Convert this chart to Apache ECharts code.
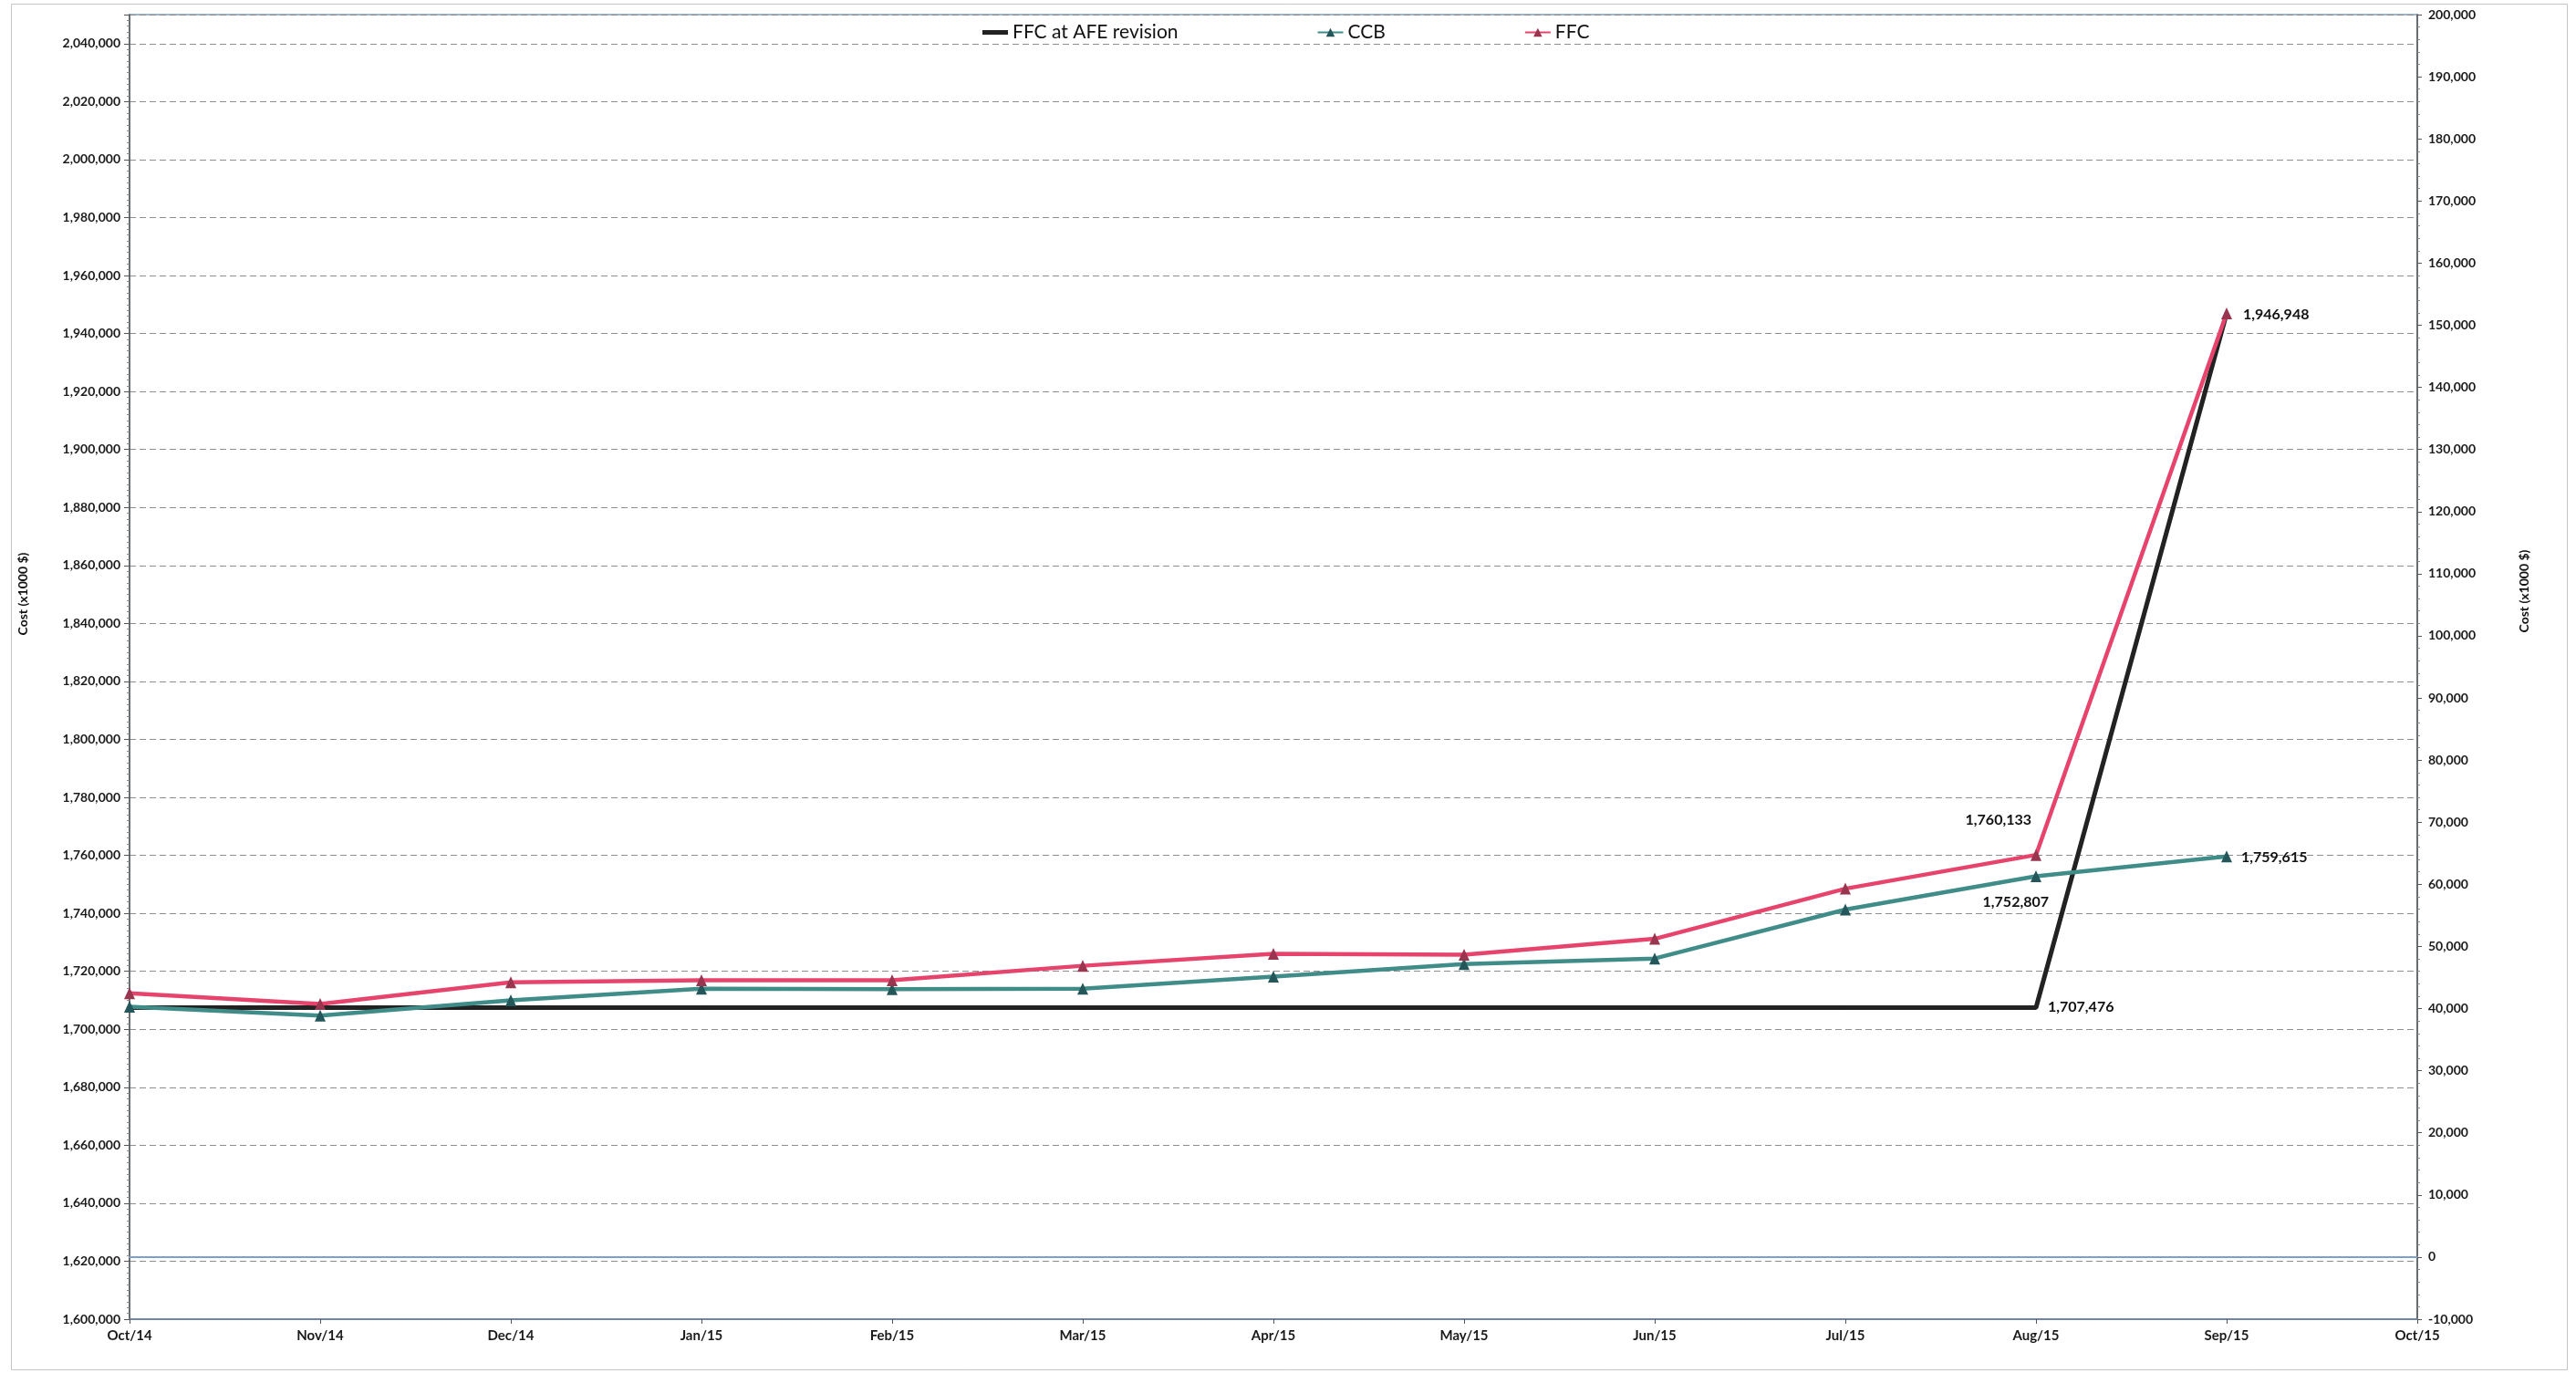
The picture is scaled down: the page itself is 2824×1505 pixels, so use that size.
<!DOCTYPE html>
<html>
<head>
<meta charset="utf-8">
<script src="https://cdn.jsdelivr.net/npm/echarts@6/dist/echarts.min.js"></script>
<style>
  html, body { margin: 0; padding: 0; background: #ffffff; }
  #chart { width: 2824px; height: 1505px; }
</style>
</head>
<body>
<div id="chart"></div>
<script>
// Monthly cost tracking (x1000 $)
const months = ['Oct/14', 'Nov/14', 'Dec/14', 'Jan/15', 'Feb/15', 'Mar/15', 'Apr/15',
                'May/15', 'Jun/15', 'Jul/15', 'Aug/15', 'Sep/15', 'Oct/15'];

const ffcAtAfeRevision = [1707476, 1707476, 1707476, 1707476, 1707476, 1707476, 1707476,
                          1707476, 1707476, 1707476, 1707476, 1946948, null];

const ccb = [1707800, 1704700, 1710000, 1714000, 1713800, 1714000, 1718200,
             1722500, 1724400, 1741300, 1752807, 1759615, null];

const ffc = [1712400, 1708700, 1716200, 1716900, 1716900, 1721900, 1726000,
             1725700, 1731200, 1748500, 1760133, 1946948, null];

const leftAxisRange = [1600000, 2050000];
const leftAxisStep = 20000;
const rightAxisRange = [-10000, 200000];
const rightAxisStep = 10000;

const FONT = 'Lato, "Open Sans", sans-serif';
const fmt = v => Number(v).toLocaleString('en-US');

const valueLabel = {
  show: true,
  fontFamily: FONT,
  fontWeight: 'bold',
  fontSize: 16,
  color: '#111',
  formatter: p => fmt(p.value)
};

// attach a value label to chosen points of a series
function withLabels(values, labelled) {
  return values.map((v, i) => labelled[i]
    ? { value: v, label: Object.assign({}, valueLabel, labelled[i]) }
    : v);
}

const chart = echarts.init(document.getElementById('chart'), null, { renderer: 'canvas' });

const axisLabelStyle = {
  fontFamily: FONT,
  fontWeight: 'bold',
  fontSize: 14,
  color: '#1a1a1a'
};

const axisNameStyle = { fontFamily: FONT, fontWeight: 'bold', fontSize: 14, color: '#111' };

chart.setOption({
  backgroundColor: '#ffffff',
  animation: false,
  graphic: [{
    type: 'rect',
    left: 10, top: 2,
    shape: { width: 2802, height: 1497 },
    style: { fill: 'none', stroke: '#c4c4c4', lineWidth: 1 },
    silent: true,
    z: -1
  }],
  legend: {
    left: 1072,
    top: 20,
    itemWidth: 28,
    itemHeight: 12,
    itemGap: 152,
    textStyle: { fontFamily: FONT, fontSize: 21, color: '#111' },
    data: [
      { name: 'FFC at AFE revision', icon: 'path://M0,0H28V5H0Z' },
      'CCB',
      'FFC'
    ]
  },
  grid: {
    left: 142,
    right: 174,
    top: 16,
    bottom: 59,
    show: true,
    backgroundColor: '#ffffff',
    borderColor: '#7f9fcc',
    borderWidth: 1.5,
    containLabel: false
  },
  xAxis: [{
    type: 'category',
    data: months,
    boundaryGap: false,
    axisLine: { show: true, onZero: false, lineStyle: { color: '#6f86a8', width: 2 } },
    axisTick: { show: true, length: 5, lineStyle: { color: '#555' } },
    axisLabel: { margin: 11, fontSize: 15, fontFamily: FONT, fontWeight: 'bold', color: '#1a1a1a' },
    splitLine: { show: false }
  }, {
    // secondary axis line at zero of the right-hand scale
    type: 'category',
    data: months,
    boundaryGap: false,
    position: 'bottom',
    axisLine: { show: true, onZero: true, onZeroAxisIndex: 1, lineStyle: { color: '#7f9fcc', width: 2 } },
    axisTick: { show: false },
    axisLabel: { show: false },
    splitLine: { show: false }
  }],
  yAxis: [{
    type: 'value',
    position: 'left',
    min: leftAxisRange[0],
    max: leftAxisRange[1],
    interval: leftAxisStep,
    name: 'Cost (x1000 $)',
    nameLocation: 'middle',
    nameRotate: 90,
    nameGap: 110,
    nameTextStyle: Object.assign({ padding: [0, 0, 0, 160] }, axisNameStyle),
    axisLine: { show: true, lineStyle: { color: '#555', width: 1.5 } },
    axisTick: { show: true, length: 6, lineStyle: { color: '#555' } },
    minorTick: { show: true, splitNumber: 10, length: 3, lineStyle: { color: '#888' } },
    axisLabel: Object.assign({ margin: 10, formatter: fmt, showMaxLabel: false }, axisLabelStyle),
    splitLine: { show: true, lineStyle: { color: '#8e8e8e', type: [7, 4], width: 1 } }
  }, {
    type: 'value',
    position: 'right',
    min: rightAxisRange[0],
    max: rightAxisRange[1],
    interval: rightAxisStep,
    name: 'Cost (x1000 $)',
    nameLocation: 'middle',
    nameRotate: 90,
    nameGap: 110,
    nameTextStyle: Object.assign({ padding: [0, 0, 0, 166] }, axisNameStyle),
    axisLine: { show: true, lineStyle: { color: '#555', width: 1.5 } },
    axisTick: { show: true, length: 5, lineStyle: { color: '#555' } },
    minorTick: { show: true, splitNumber: 5, length: 3, lineStyle: { color: '#888' } },
    axisLabel: Object.assign({ margin: 12, formatter: fmt }, axisLabelStyle),
    splitLine: { show: false }
  }],
  series: [{
    name: 'FFC at AFE revision',
    type: 'line',
    xAxisIndex: 0,
    yAxisIndex: 0,
    data: withLabels(ffcAtAfeRevision, {
      10: { position: 'right', distance: 12, offset: [0, -1] }
    }),
    symbol: 'circle',
    symbolSize: 2,
    showSymbol: true,
    lineStyle: { color: '#222222', width: 5 },
    itemStyle: { color: '#222222' },
    z: 2
  }, {
    name: 'CCB',
    type: 'line',
    xAxisIndex: 0,
    yAxisIndex: 0,
    data: withLabels(ccb, {
      10: { position: 'left', distance: 5, offset: [25, 28] },
      11: { position: 'right', distance: 10, offset: [0, 1] }
    }),
    symbol: 'triangle',
    symbolSize: [12, 13],
    lineStyle: { color: '#3f8c88', width: 4.5 },
    itemStyle: { color: '#24575a' },
    z: 3
  }, {
    name: 'FFC',
    type: 'line',
    xAxisIndex: 0,
    yAxisIndex: 0,
    data: withLabels(ffc, {
      10: { position: 'left', distance: 5, offset: [6, -38] },
      11: { position: 'right', distance: 12, offset: [0, 1] }
    }),
    symbol: 'triangle',
    symbolSize: [12, 13],
    lineStyle: { color: '#e6446c', width: 4.5 },
    itemStyle: { color: '#9a3550' },
    z: 4
  }]
});
</script>
</body>
</html>
